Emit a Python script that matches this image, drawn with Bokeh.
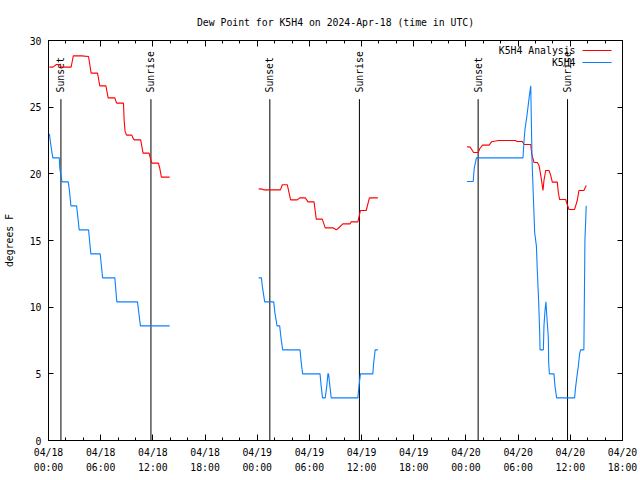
import math
from bokeh.plotting import figure
from bokeh.models import Range1d, LinearAxis, FixedTicker, Label, Arrow, CustomJSTickFormatter
from bokeh.core.properties import value
from bokeh.embed import file_html
from bokeh.resources import INLINE

NaN = float("nan")

# ---- data: hours since 2024-04-18 00:00 UTC, dew point in deg F ----
analysis_day1_hours = [0.1, 0.5, 0.7, 0.9, 1.3, 1.45, 2.6, 2.75, 2.85, 3.8, 4.6, 4.75, 4.9, 5.64, 5.9,
                       6.6, 6.86, 7.63, 7.75, 7.85, 8.62, 8.7, 8.8, 8.97, 9.58, 9.7, 9.85, 10.6,
                       10.87, 11.56, 11.87, 12.64, 12.8, 12.98, 13.93]
analysis_day1_dewpt = [28.0, 28.0, 28.1, 28.2, 28.2, 28.0, 28.0, 28.5, 28.85, 28.85, 28.8, 28.2, 27.55,
                       27.55, 26.6, 26.6, 25.7, 25.7, 25.45, 25.3, 25.3, 24.0, 23.2, 22.9, 22.9, 22.7,
                       22.55, 22.55, 21.55, 21.55, 20.8, 20.8, 20.4, 19.75, 19.75]
analysis_day2_hours = [24.17, 24.6, 24.75, 26.66, 26.89, 27.46, 27.84, 28.61, 28.88, 29.53, 29.84, 30.53,
                       30.79, 31.48, 31.82, 32.71, 33.08, 33.3, 33.85, 34.69, 34.8, 35.57, 35.87, 36.53,
                       36.9, 37.87]
analysis_day2_dewpt = [18.87, 18.85, 18.8, 18.8, 19.18, 19.18, 18.05, 18.05, 18.2, 18.2, 17.9, 17.9,
                       16.6, 16.6, 15.95, 15.95, 15.8, 15.9, 16.25, 16.25, 16.4, 16.4, 17.25, 17.25,
                       18.2, 18.2]
analysis_day3_hours = [48.11, 48.5, 48.88, 49.4, 49.6, 49.91, 50.66, 50.94, 51.74, 53.73, 53.83, 54.48,
                       54.68, 55.45, 55.56, 55.83, 56.21, 56.4, 56.6, 56.86, 56.97, 57.17, 57.55, 57.74,
                       57.93, 58.5, 58.62, 58.77, 59.46, 59.65, 59.84, 60.49, 60.8, 60.99, 61.56, 61.83]
analysis_day3_dewpt = [22.03, 22.0, 21.6, 21.6, 21.9, 22.15, 22.15, 22.4, 22.5, 22.5, 22.43, 22.43,
                       22.2, 22.2, 21.5, 20.85, 20.85, 20.63, 19.9, 18.75, 19.5, 20.25, 20.25, 19.9,
                       19.38, 19.38, 18.6, 18.08, 18.08, 17.7, 17.33, 17.33, 18.0, 18.75, 18.75, 19.13]

obs_day1_hours = [0.1, 0.2, 0.35, 0.5, 1.24, 1.3, 1.55, 2.27, 2.4, 2.58, 3.23, 3.4, 3.53, 4.61, 4.75,
                  4.87, 5.94, 6.1, 6.22, 7.63, 7.75, 7.86, 10.23, 10.4, 10.57, 13.93]
obs_day1_dewpt = [23.0, 22.5, 21.8, 21.2, 21.2, 20.4, 19.4, 19.4, 18.8, 17.6, 17.6, 16.6, 15.8, 15.8,
                  14.8, 14.0, 14.0, 13.0, 12.2, 12.2, 11.2, 10.4, 10.4, 9.5, 8.6, 8.6]
obs_day2_hours = [24.17, 24.48, 24.6, 24.86, 25.89, 26.05, 26.28, 26.58, 26.75, 26.93, 28.92, 29.05,
                  29.22, 31.22, 31.35, 31.51, 31.82, 32.0, 32.13, 32.2, 32.35, 32.51, 35.57, 35.7,
                  35.87, 37.29, 37.4, 37.56, 37.87]
obs_day2_dewpt = [12.2, 12.2, 11.5, 10.4, 10.4, 9.5, 8.6, 8.6, 7.6, 6.8, 6.8, 5.9, 5.0, 5.0, 4.1, 3.2,
                  3.2, 4.1, 5.0, 5.0, 4.1, 3.2, 3.2, 4.1, 5.0, 5.0, 5.9, 6.8, 6.8]
obs_day3_hours = [48.11, 48.83, 48.95, 49.2, 54.56, 54.68, 54.8, 54.99, 55.15, 55.3, 55.45, 55.6,
                  55.78, 55.9, 56.1, 56.2, 56.36, 56.48, 56.52, 56.9, 56.97, 57.09, 57.2, 57.28,
                  57.47, 57.51, 57.59, 58.12, 58.23, 58.43, 60.49, 60.61, 60.8, 60.91, 61.07, 61.18,
                  61.56, 61.6, 61.68, 61.83]
obs_day3_dewpt = [19.43, 19.43, 20.4, 21.2, 21.2, 22.5, 23.4, 24.25, 25.1, 25.9, 26.6, 21.0, 17.75,
                  15.6, 14.6, 12.8, 10.4, 8.05, 6.8, 6.8, 8.6, 9.75, 10.4, 9.5, 7.75, 5.9, 5.0, 5.0,
                  4.1, 3.2, 3.2, 4.0, 5.0, 5.5, 6.5, 6.8, 6.8, 9.5, 15.0, 17.6]

sun_hours = [1.43, 11.78, 25.45, 35.75, 49.4, 59.68]
sun_labels = ["Sunset", "Sunrise", "Sunset", "Sunrise", "Sunset", "Sunrise"]

tick_hours = [0, 6, 12, 18, 24, 30, 36, 42, 48, 54, 60, 66]
tick_labels = ["04/18\n00:00", "04/18\n06:00", "04/18\n12:00", "04/18\n18:00",
               "04/19\n00:00", "04/19\n06:00", "04/19\n12:00", "04/19\n18:00",
               "04/20\n00:00", "04/20\n06:00", "04/20\n12:00", "04/20\n18:00"]
minor_hours = [0, 2, 4, 6, 8, 10, 12, 14, 16, 18, 20, 22, 24, 26, 28, 30, 32, 34, 36, 38, 40, 42,
               44, 46, 48, 50, 52, 54, 56, 58, 60, 62, 64, 66]
y_ticks = [0, 5, 10, 15, 20, 25, 30]

analysis_hours = analysis_day1_hours + [NaN] + analysis_day2_hours + [NaN] + analysis_day3_hours
analysis_dewpt = analysis_day1_dewpt + [NaN] + analysis_day2_dewpt + [NaN] + analysis_day3_dewpt
obs_hours = obs_day1_hours + [NaN] + obs_day2_hours + [NaN] + obs_day3_hours
obs_dewpt = obs_day1_dewpt + [NaN] + obs_day2_dewpt + [NaN] + obs_day3_dewpt

# ---- style ----
FONT = "DejaVu Sans Mono"
FS = "9.8px"
RED = "#ff0000"
BLUE = "#0a80ff"
MARKER_TOP = 25.6
MARKER_LABEL_Y = 26.1

p = figure(width=640, height=480, output_backend="svg", toolbar_location=None,
           x_range=Range1d(0, 66), y_range=Range1d(0, 30),
           min_border_left=47, min_border_right=18, min_border_top=40, min_border_bottom=40,
           title="Dew Point for K5H4 on 2024-Apr-18 (time in UTC)")
p.title.text_font = FONT
p.title.text_font_size = FS
p.title.text_font_style = "normal"
p.title.text_color = "black"
p.title.align = "center"
p.title.standoff = 26
p.xgrid.visible = False
p.ygrid.visible = False
p.outline_line_color = "black"
p.outline_line_width = 1
p.background_fill_color = "white"
p.border_fill_color = "white"


def style(ax):
    ax.axis_line_color = "black"
    ax.major_tick_line_color = "black"
    ax.minor_tick_line_color = "black"
    ax.major_tick_out = 0
    ax.minor_tick_out = 0
    ax.major_label_text_font = FONT
    ax.major_label_text_font_size = FS
    ax.major_label_text_color = "black"
    ax.axis_label_text_font = FONT
    ax.axis_label_text_font_size = FS
    ax.axis_label_text_font_style = "normal"
    ax.axis_label_text_color = "black"


xax = p.xaxis[0]
xax.ticker = FixedTicker(ticks=tick_hours, minor_ticks=minor_hours)
xax.major_label_overrides = dict(zip(tick_hours, tick_labels))
style(xax)
xax.major_tick_in = 6
xax.minor_tick_in = 3
xax.major_label_standoff = 6
xax.major_label_text_line_height = 1.4

yax = p.yaxis[0]
yax.ticker = FixedTicker(ticks=y_ticks, minor_ticks=[])
style(yax)
yax.major_tick_in = 5
yax.minor_tick_in = 0
yax.major_label_standoff = 7
yax.axis_label = "degrees F"
yax.axis_label_standoff = 12

blank = CustomJSTickFormatter(code="return ''")

top = LinearAxis(ticker=FixedTicker(ticks=tick_hours, minor_ticks=minor_hours), formatter=blank)
style(top)
top.major_tick_in = 6
top.minor_tick_in = 3
top.major_label_standoff = 0
p.add_layout(top, "above")

right = LinearAxis(ticker=FixedTicker(ticks=y_ticks, minor_ticks=[]), formatter=blank)
style(right)
right.major_tick_in = 5
right.minor_tick_in = 0
right.major_label_standoff = 0
p.add_layout(right, "right")

# sunset / sunrise markers
p.segment(x0=sun_hours, y0=[0] * len(sun_hours), x1=sun_hours, y1=[MARKER_TOP] * len(sun_hours),
          line_color="black", line_width=1)
p.text(x=sun_hours, y=[MARKER_LABEL_Y] * len(sun_hours), text=sun_labels, angle=math.pi / 2,
       text_font=value(FONT), text_font_size=FS, text_align="left", text_baseline="middle",
       text_color="black")

# series
p.line(analysis_hours, analysis_dewpt, line_color=RED, line_width=1.1)
p.line(obs_hours, obs_dewpt, line_color=BLUE, line_width=1.1)

# gnuplot-style key (text right-aligned, sample line on the right)
key = [("K5H4 Analysis", RED, 390), ("K5H4", BLUE, 378)]
for name, col, yy in key:
    p.add_layout(Label(x=527, y=yy, x_units="screen", y_units="screen", text=name,
                       text_align="right", text_baseline="middle", text_font=FONT,
                       text_font_size=FS, text_color="black"))
    p.add_layout(Arrow(x_start=534, y_start=yy, x_end=563, y_end=yy,
                       start_units="screen", end_units="screen", end=None,
                       line_color=col, line_width=1.1))

open("out.html", "w").write(file_html(p, INLINE))
